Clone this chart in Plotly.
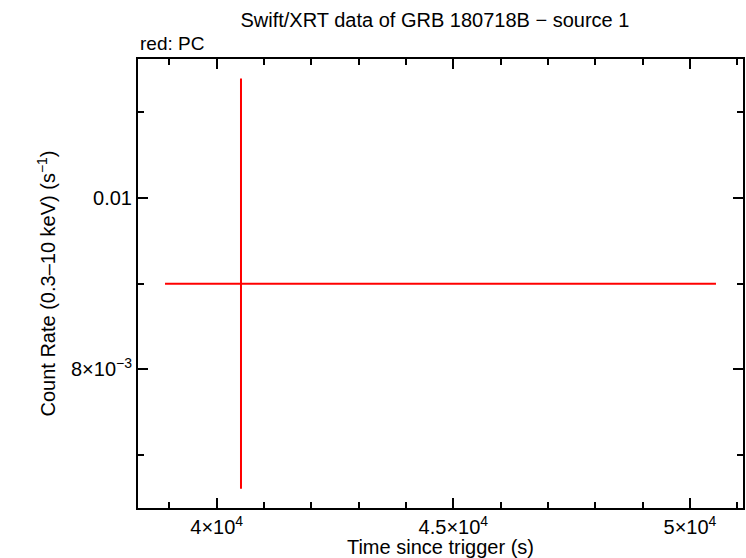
import plotly.graph_objects as go

# Data (single PC point)
time_s = [40513]
time_err_minus = [1605]
time_err_plus = [10036]
rate = [0.00900]
rate_err = [0.00239]

x_tickvals = [40000, 45000, 50000]
x_ticktext = ["4×10<sup>4</sup>", "4.5×10<sup>4</sup>", "5×10<sup>4</sup>"]
y_tickvals = [0.008, 0.010]
y_ticktext = ["8×10<sup>−3</sup>", "0.01"]

FONT = "Liberation Sans, Arial, Helvetica, sans-serif"

fig = go.Figure()
fig.add_trace(go.Scatter(
    x=time_s, y=rate, mode="markers",
    marker=dict(size=1, color="red"),
    error_x=dict(type="data", symmetric=False, array=time_err_plus,
                 arrayminus=time_err_minus, color="red", thickness=2, width=0),
    error_y=dict(type="data", array=rate_err, color="red", thickness=2, width=0),
    showlegend=False, hoverinfo="skip",
))

axis_common = dict(
    showgrid=False, zeroline=False, showline=True, linecolor="black",
    linewidth=2, mirror="ticks", ticks="inside", ticklen=10, tickwidth=2,
    tickcolor="black", tickfont=dict(family=FONT, size=20, color="black"),
)

fig.update_xaxes(
    **axis_common, range=[38337, 51120], tickmode="array",
    tickvals=x_tickvals, ticktext=x_ticktext,
    minor=dict(ticks="inside", ticklen=6, tickwidth=2, tickcolor="black", dtick=1000, tick0=0, showgrid=False),
    title=dict(text="Time since trigger (s)", font=dict(family=FONT, size=20, color="black"), standoff=0),
)
fig.update_yaxes(
    **axis_common, range=[0.006385, 0.011618], tickmode="array",
    tickvals=y_tickvals, ticktext=y_ticktext,
    minor=dict(ticks="inside", ticklen=6, tickwidth=2, tickcolor="black", dtick=0.001, tick0=0, showgrid=False),
    title=dict(text="Count Rate (0.3–10 keV) (s<sup>−1</sup>)", font=dict(family=FONT, size=20, color="black"), standoff=10),
)

fig.update_layout(
    width=746, height=558,
    margin=dict(l=138, r=3, t=59, b=50, autoexpand=False),
    paper_bgcolor="white", plot_bgcolor="white",
    font=dict(family=FONT, color="black"),
    title=dict(text="Swift/XRT data of GRB 180718B − source 1", x=0.583, xanchor="center",
               y=0.965, yanchor="middle", font=dict(family=FONT, size=20, color="black")),
    annotations=[dict(text="red: PC", xref="paper", yref="paper", x=0, y=1, yshift=3,
                      xanchor="left", yanchor="bottom", showarrow=False,
                      font=dict(family=FONT, size=19, color="black"))],
)

fig.write_html("out.html", config={"displayModeBar": False},
               post_script="document.body.style.margin='0';")
